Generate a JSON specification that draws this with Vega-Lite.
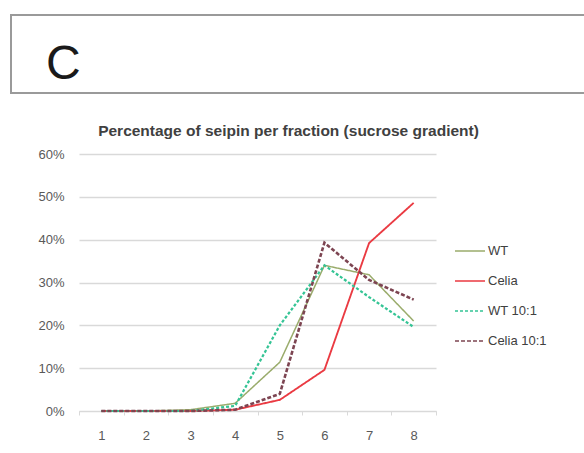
{
  "$schema": "https://vega.github.io/schema/vega-lite/v6.json",
  "padding": {"top": 14, "left": 10, "right": 0, "bottom": 0},
  "background": "white",
  "spacing": 29,
  "config": {
    "font": "Liberation Sans",
    "view": {"stroke": null}
  },
  "vconcat": [
    {
      "width": 590,
      "height": 78,
      "view": {"stroke": "#9a9a9a", "strokeWidth": 2},
      "data": {"values": [{"panel": "C"}]},
      "mark": {
        "type": "text",
        "align": "left",
        "baseline": "alphabetic",
        "dx": -260,
        "dy": 25,
        "fontSize": 48,
        "color": "#1a1a1a"
      },
      "encoding": {"text": {"field": "panel"}}
    },
    {
      "spacing": 0,
      "resolve": {"legend": {"color": "independent", "strokeDash": "independent"}},
      "hconcat": [
        {
          "width": 1,
          "height": 10,
          "data": {"values": [{"edge": "inset"}]},
          "mark": {"type": "rule", "opacity": 0},
          "encoding": {}
        },
        {
          "width": 357,
          "height": 257,
          "title": {
            "text": "Percentage of seipin per fraction (sucrose gradient)",
            "anchor": "middle",
            "frame": "bounds",
            "dx": 9,
            "fontSize": 15.5,
            "fontWeight": "bold",
            "color": "#404040",
            "offset": 9
          },
          "data": {
            "values": [
              {"fraction": "1", "series": "WT", "share": 0.0},
              {"fraction": "2", "series": "WT", "share": 0.0},
              {"fraction": "3", "series": "WT", "share": 0.003},
              {"fraction": "4", "series": "WT", "share": 0.018},
              {"fraction": "5", "series": "WT", "share": 0.114},
              {"fraction": "6", "series": "WT", "share": 0.340},
              {"fraction": "7", "series": "WT", "share": 0.318},
              {"fraction": "8", "series": "WT", "share": 0.210},
              {"fraction": "1", "series": "Celia", "share": 0.0},
              {"fraction": "2", "series": "Celia", "share": 0.0},
              {"fraction": "3", "series": "Celia", "share": 0.0},
              {"fraction": "4", "series": "Celia", "share": 0.003},
              {"fraction": "5", "series": "Celia", "share": 0.026},
              {"fraction": "6", "series": "Celia", "share": 0.096},
              {"fraction": "7", "series": "Celia", "share": 0.392},
              {"fraction": "8", "series": "Celia", "share": 0.486},
              {"fraction": "1", "series": "WT 10:1", "share": 0.0},
              {"fraction": "2", "series": "WT 10:1", "share": 0.0},
              {"fraction": "3", "series": "WT 10:1", "share": 0.0},
              {"fraction": "4", "series": "WT 10:1", "share": 0.012},
              {"fraction": "5", "series": "WT 10:1", "share": 0.200},
              {"fraction": "6", "series": "WT 10:1", "share": 0.340},
              {"fraction": "7", "series": "WT 10:1", "share": 0.266},
              {"fraction": "8", "series": "WT 10:1", "share": 0.196},
              {"fraction": "1", "series": "Celia 10:1", "share": 0.0},
              {"fraction": "2", "series": "Celia 10:1", "share": 0.0},
              {"fraction": "3", "series": "Celia 10:1", "share": 0.0},
              {"fraction": "4", "series": "Celia 10:1", "share": 0.003},
              {"fraction": "5", "series": "Celia 10:1", "share": 0.040},
              {"fraction": "6", "series": "Celia 10:1", "share": 0.393},
              {"fraction": "7", "series": "Celia 10:1", "share": 0.306},
              {"fraction": "8", "series": "Celia 10:1", "share": 0.260}
            ]
          },
          "mark": {"type": "line", "strokeCap": "butt"},
          "encoding": {
            "x": {
              "field": "fraction",
              "type": "ordinal",
              "scale": {"type": "band", "paddingInner": 0, "paddingOuter": 0},
              "axis": {
                "title": null,
                "labelAngle": 0,
                "tickBand": "extent",
                "domainColor": "#d9d9d9",
                "tickColor": "#d9d9d9",
                "tickSize": 4,
                "labelPadding": 14,
                "labelFontSize": 13,
                "labelColor": "#595959",
                "grid": false
              }
            },
            "y": {
              "field": "share",
              "type": "quantitative",
              "scale": {"domain": [0, 0.6], "nice": false},
              "axis": {
                "title": null,
                "format": ".0%",
                "values": [0, 0.1, 0.2, 0.3, 0.4, 0.5, 0.6],
                "domain": false,
                "ticks": false,
                "labelPadding": 15,
                "minExtent": 67,
                "labelFontSize": 13,
                "labelColor": "#595959",
                "gridColor": "#d9d9d9",
                "gridWidth": 1.5
              }
            },
            "color": {
              "field": "series",
              "type": "nominal",
              "scale": {
                "domain": ["WT", "Celia", "WT 10:1", "Celia 10:1"],
                "range": ["#9aac6c", "#ea3a42", "#35c495", "#7d4552"]
              },
              "legend": {
                "title": null,
                "orient": "none",
                "legendX": 375,
                "legendY": 81,
                "symbolType": "stroke",
                "symbolSize": 900,
                "rowPadding": 7,
                "labelFontSize": 13,
                "labelColor": "#404040",
                "labelOffset": 2
              }
            },
            "strokeDash": {
              "field": "series",
              "type": "nominal",
              "scale": {
                "domain": ["WT", "Celia", "WT 10:1", "Celia 10:1"],
                "range": [[1, 0], [1, 0], [3, 2], [4, 2]]
              },
              "legend": {
                "title": null,
                "orient": "none",
                "legendX": 375,
                "legendY": 81,
                "symbolType": "stroke",
                "symbolSize": 900,
                "rowPadding": 7,
                "labelFontSize": 13,
                "labelColor": "#404040",
                "labelOffset": 2
              }
            },
            "strokeWidth": {
              "field": "series",
              "type": "nominal",
              "scale": {
                "domain": ["WT", "Celia", "WT 10:1", "Celia 10:1"],
                "range": [1.5, 2.6, 2.2, 2.2]
              },
              "legend": null
            }
          }
        }
      ]
    }
  ]
}
